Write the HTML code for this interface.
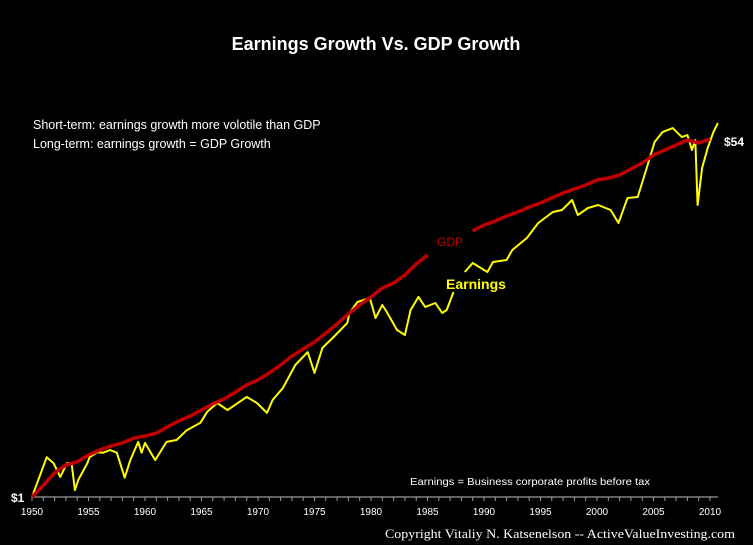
<!DOCTYPE html>
<html><head><meta charset="utf-8">
<style>
html,body{margin:0;padding:0;background:#000;}
svg{display:block;}
text{font-family:"Liberation Sans",sans-serif;}
</style></head>
<body>
<svg id="chart" width="753" height="545" viewBox="0 0 753 545">
<rect x="0" y="0" width="753" height="545" fill="#000"/>
<text x="376" y="50" text-anchor="middle" fill="#fff" font-size="18" font-weight="bold">Earnings Growth Vs. GDP Growth</text>
<text x="33" y="129" fill="#fff" font-size="12.5">Short-term: earnings growth more volotile than GDP</text>
<text x="33" y="148" fill="#fff" font-size="12.5">Long-term: earnings growth = GDP Growth</text>
<text x="410" y="485" fill="#fff" font-size="10.5" textLength="240" lengthAdjust="spacingAndGlyphs">Earnings = Business corporate profits before tax</text>
<text x="385" y="538" fill="#fff" font-size="13" style="font-family:'Liberation Serif',serif" textLength="350" lengthAdjust="spacingAndGlyphs">Copyright  Vitaliy N. Katsenelson  --  ActiveValueInvesting.com</text>
<text x="11" y="502" fill="#fff" font-size="12" font-weight="bold">$1</text>
<text x="724" y="146" fill="#fff" font-size="12" font-weight="bold">$54</text>
<text x="437" y="246" fill="#c00000" font-size="12">GDP</text>
<text x="446" y="289" fill="#ffff00" font-size="14" font-weight="bold">Earnings</text>
<g id="axis"></g>
<g id="series"></g>
</svg>
<script>
const gdpYears = [1950,1951,1952,1953,1954,1955,1956,1957,1958,1959,1960,1961,1962,1963,1964,1965,1966,1967,1968,1969,1970,1971,1972,1973,1974,1975,1976,1977,1978,1979,1980,1981,1982,1983,1984,1985,1986,1987,1988,1989,1990,1991,1992,1993,1994,1995,1996,1997,1998,1999,2000,2001,2002,2003,2004,2005,2006,2007,2008,2009,2010];
const gdpValues = [1.00,1.14,1.31,1.43,1.48,1.60,1.69,1.77,1.83,1.93,1.98,2.04,2.19,2.34,2.47,2.64,2.83,2.99,3.23,3.50,3.70,4.00,4.37,4.83,5.23,5.65,6.25,6.91,7.73,8.54,9.35,10.33,10.92,11.95,13.51,14.94,null,null,null,19.53,20.88,21.84,23.10,24.15,25.54,26.71,28.25,29.87,31.23,32.66,34.54,35.31,36.52,39.04,41.75,45.65,48.3,51.06,54.0,52.2,54.6];
const earnYears = [1950.0,1951.3,1951.9,1952.5,1953.1,1953.5,1953.8,1954.1,1954.9,1955.1,1955.8,1956.3,1956.9,1957.5,1958.2,1958.7,1959.4,1959.7,1960.0,1960.9,1961.9,1962.8,1963.7,1964.9,1965.5,1966.4,1967.3,1969.0,1969.9,1970.8,1971.3,1972.2,1973.3,1974.4,1975.0,1975.7,1976.6,1977.9,1978.1,1978.8,1979.9,1980.4,1981.0,1981.4,1982.3,1983.0,1983.5,1984.2,1984.8,1985.7,1986.3,1986.7,1987.3,1987.8,1988.3,1989.0,1990.3,1990.8,1992.0,1992.5,1993.8,1994.8,1996.1,1996.9,1997.8,1998.3,1999.2,2000.1,2001.2,2001.9,2002.7,2003.6,2004.4,2005.1,2005.8,2006.7,2007.5,2008.0,2008.4,2008.7,2008.9,2009.3,2009.8,2010.3,2010.7];
const earnValues = [1.00,1.56,1.46,1.25,1.46,1.46,1.08,1.21,1.46,1.56,1.65,1.64,1.69,1.64,1.24,1.51,1.85,1.64,1.83,1.51,1.85,1.89,2.11,2.29,2.59,2.86,2.64,3.06,2.86,2.56,2.96,3.38,4.37,5.05,4.00,5.29,5.91,6.99,7.81,8.84,9.24,7.39,8.54,7.90,6.46,6.11,8.08,9.35,8.36,8.74,7.81,8.08,9.88,null,12.35,13.66,12.35,13.82,14.13,15.80,18.07,21.35,24.15,24.70,27.61,23.36,25.25,26.12,24.70,21.35,28.25,28.56,39.5,52.8,59.0,61.7,55.8,57.1,48.3,54.0,26.12,39.5,49.4,59.0,65.3];
const tickYears = [1950,1955,1960,1965,1970,1975,1980,1985,1990,1995,2000,2005,2010];

const NS = "http://www.w3.org/2000/svg";
const X0 = 32, PX_PER_YEAR = 11.3, Y0 = 497, K = 89.5;
function xScale(yr){ return X0 + (yr - 1950) * PX_PER_YEAR; }
function yScale(v){ return Y0 - K * Math.log(v); }

const axis = document.getElementById('axis');
const al = document.createElementNS(NS,'line');
al.setAttribute('x1', xScale(1950)); al.setAttribute('x2', xScale(2010.7));
al.setAttribute('y1', Y0); al.setAttribute('y2', Y0);
al.setAttribute('stroke', '#9a9a9a'); al.setAttribute('stroke-width', '1.2');


axis.appendChild(al);
for (let yr = 1950; yr <= 2010; yr++) {
  const t = document.createElementNS(NS,'line');
  t.setAttribute('x1', xScale(yr)); t.setAttribute('x2', xScale(yr));
  t.setAttribute('y1', Y0); t.setAttribute('y2', Y0 + 4);
  t.setAttribute('stroke', '#9a9a9a'); t.setAttribute('stroke-width', '1');
  
  
  axis.appendChild(t);
}
tickYears.forEach(yr => {
  const tx = document.createElementNS(NS,'text');
  tx.setAttribute('x', xScale(yr)); tx.setAttribute('y', Y0 + 18);
  tx.setAttribute('text-anchor', 'middle'); tx.setAttribute('fill', '#fff');
  tx.setAttribute('font-size', '10');
  tx.textContent = yr;
  
  
  axis.appendChild(tx);
});

function pathFrom(xs, vs){
  let d = '', pen = false;
  for (let i = 0; i < xs.length; i++) {
    if (vs[i] == null) { pen = false; continue; }
    d += (pen ? 'L' : 'M') + xScale(xs[i]).toFixed(1) + ',' + yScale(vs[i]).toFixed(1);
    pen = true;
  }
  return d;
}
const series = document.getElementById('series');
const gp = document.createElementNS(NS,'path');
gp.setAttribute('d', pathFrom(gdpYears, gdpValues));
gp.setAttribute('fill', 'none'); gp.setAttribute('stroke', '#c00000');
gp.setAttribute('stroke-width', '3.5'); gp.setAttribute('stroke-linejoin', 'round');


const ep = document.createElementNS(NS,'path');
ep.setAttribute('d', pathFrom(earnYears, earnValues));
ep.setAttribute('fill', 'none'); ep.setAttribute('stroke', '#ffff00');
ep.setAttribute('stroke-width', '2'); ep.setAttribute('stroke-linejoin', 'round');


series.appendChild(ep);
series.appendChild(gp);
</script>
</body></html>
